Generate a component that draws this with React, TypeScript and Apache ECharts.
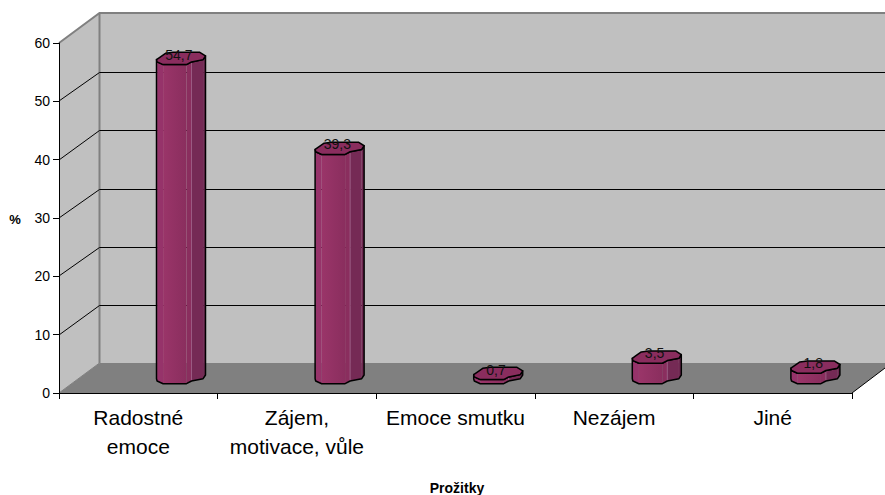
import React, { useEffect, useRef } from "react";
import * as echarts from "echarts";

const categories = ["Radostné\nemoce", "Zájem,\nmotivace, vůle", "Emoce smutku", "Nezájem", "Jiné"];
const values = [54.7, 39.3, 0.7, 3.5, 1.8];
const valueLabels = ["54,7", "39,3", "0,7", "3,5", "1,8"];
const yTicks = [10, 20, 30, 40, 50];

const FONT = "Arial, 'Liberation Sans', sans-serif";
const DX = 40.5;
const DY = -30;
const GRID_DY = -28.7;

const capOutline: number[][] = [
  [-24.3, -5], [-21, -7.3], [-15.3, -11.3], [-7.7, -12.3], [19, -12.3], [24.7, -8.7],
  [22.3, -5], [10.7, -2.7], [5.7, 0], [-17.7, 0], [-23.7, -2.7],
];
const frontEdge: number[][] = [
  [-24.3, -5], [-23.7, -2.7], [-17.7, 0], [5.7, 0], [10.7, -2.7], [22.3, -5], [24.7, -8.7],
];
const faceColors: any[] = [
  "#8d2f60",
  "#96336a",
  {
    type: "linear", x: 0, y: 0, x2: 1, y2: 0,
    colorStops: [{ offset: 0, color: "#9a3569" }, { offset: 1, color: "#8a2e5e" }],
  },
  "#8a2e5e",
  "#752a55",
  "#6e2750",
];

const wallsItem = (params: any) => {
  const c = params.coordSys;
  const left = c.x;
  const top = c.y;
  const right = c.x + c.width;
  const bottom = c.y + c.height;
  const pageRight = right + 33;
  const wallTop = top + DY;
  const wallBottom = bottom + DY;
  const edge = { stroke: "#808080", lineWidth: 2 };
  return {
    type: "group",
    children: [
      { type: "rect", shape: { x: left + DX, y: wallTop, width: pageRight - left - DX, height: wallBottom - wallTop }, style: { fill: "#c0c0c0" } },
      { type: "polygon", shape: { points: [[left, top], [left + DX, wallTop], [left + DX, wallBottom], [left, bottom]] }, style: { fill: "#c0c0c0" } },
      { type: "polygon", shape: { points: [[left, bottom], [right, bottom], [pageRight, bottom - 25], [pageRight, wallBottom], [left + DX, wallBottom]] }, style: { fill: "#808080" } },
      { type: "polyline", shape: { points: [[left, top], [left + DX, wallTop], [pageRight, wallTop]] }, style: { ...edge, fill: "none" } },
      { type: "line", shape: { x1: left + DX, y1: wallTop, x2: left + DX, y2: wallBottom }, style: edge },
      { type: "line", shape: { x1: left, y1: bottom, x2: left + DX, y2: wallBottom }, style: { stroke: "#808080", lineWidth: 1 } },
      { type: "line", shape: { x1: right, y1: bottom, x2: pageRight, y2: bottom - 25 }, style: { stroke: "#000", lineWidth: 1 } },
    ],
  };
};

const gridItem = (params: any, api: any) => {
  const c = params.coordSys;
  const y = Math.round(api.coord([0, api.value(0)])[1]);
  const backY = Math.floor(api.coord([0, api.value(0)])[1] + GRID_DY) + 0.5;
  return {
    type: "group",
    children: [
      { type: "line", shape: { x1: c.x, y1: y, x2: c.x + DX, y2: backY }, style: { stroke: "#000", lineWidth: 1 } },
      { type: "line", shape: { x1: c.x + DX, y1: backY, x2: c.x + c.width + 33, y2: backY }, style: { stroke: "#000", lineWidth: 1 } },
    ],
  };
};

const barItem = (params: any, api: any) => {
  const i = params.dataIndex;
  const [catX, zeroY] = api.coord([i, 0]);
  const [, valueY] = api.coord([i, api.value(1)]);
  const cx = catX + 42.5;
  const base = zeroY - 9.3;
  const h = zeroY - valueY;
  const lift = (pts: number[][], d: number) => pts.map(([x, y]) => [cx + x, base + y - d]);
  const children: any[] = [];
  for (let f = 0; f < frontEdge.length - 1; f++) {
    const a = frontEdge[f];
    const b = frontEdge[f + 1];
    children.push({
      type: "polygon",
      shape: { points: [[cx + a[0], base + a[1]], [cx + b[0], base + b[1]], [cx + b[0], base + b[1] - h], [cx + a[0], base + a[1] - h]] },
      style: { fill: faceColors[f] },
    });
  }
  children.push({
    type: "line",
    shape: { x1: cx + 10.7, y1: base - 2.7, x2: cx + 10.7, y2: base - 2.7 - h },
    style: { stroke: "#9a5a82", lineWidth: 1 },
  });
  children.push({
    type: "polygon",
    shape: { points: [...lift(frontEdge, h), ...lift(frontEdge, 0).reverse()] },
    style: { fill: "none", stroke: "#000", lineWidth: 1.5, lineJoin: "round" },
  });
  children.push({
    type: "polygon",
    shape: { points: lift(capOutline, h) },
    style: { fill: "#8a2d5e", stroke: "#000", lineWidth: 1.5, lineJoin: "round" },
  });
  children.push({
    type: "text",
    style: {
      text: valueLabels[i],
      x: cx - 2,
      y: base - h - 10,
      align: "center",
      verticalAlign: "middle",
      fill: "#111",
      font: `14px ${FONT}`,
    },
  });
  return { type: "group", children };
};

export default function App() {
  const ref = useRef<HTMLDivElement>(null);
  useEffect(() => {
    const chart = echarts.init(ref.current!, undefined, { renderer: "svg" });
    chart.setOption({
      animation: false,
      backgroundColor: "#ffffff",
      textStyle: { fontFamily: FONT },
      grid: { left: 59, right: 33, top: 43, bottom: 102, containLabel: false },
      xAxis: {
        type: "category",
        data: categories,
        z: 5,
        boundaryGap: true,
        axisLine: { lineStyle: { color: "#000", width: 1 } },
        axisTick: { show: true, length: 6, alignWithLabel: false, lineStyle: { color: "#000" } },
        axisLabel: { interval: 0, color: "#000", fontSize: 21, lineHeight: 29.5, margin: 9.5, fontFamily: FONT },
        splitLine: { show: false },
      },
      yAxis: {
        type: "value",
        min: 0,
        max: 60,
        interval: 10,
        z: 5,
        axisLine: { show: true, lineStyle: { color: "#000", width: 1 } },
        axisTick: { show: true, length: 6, lineStyle: { color: "#000" } },
        axisLabel: { color: "#000", fontSize: 14, margin: 9, padding: [8, 0, 0, 0], fontFamily: FONT },
        splitLine: { show: false },
      },
      graphic: [
        { type: "text", x: 15, y: 219, style: { text: "%", fill: "#000", align: "center", verticalAlign: "middle", font: `bold 13px ${FONT}` } },
        { type: "text", x: 457, y: 488, style: { text: "Prožitky", fill: "#000", align: "center", verticalAlign: "middle", font: `bold 14px ${FONT}` } },
      ],
      series: [
        { type: "custom", z: 1, silent: true, clip: false, data: [0], renderItem: wallsItem },
        { type: "custom", z: 2, silent: true, clip: false, data: yTicks, encode: { y: 0 }, renderItem: gridItem },
        {
          type: "custom", z: 3, silent: true, clip: false,
          data: values.map((v, i) => [i, v]),
          encode: { x: 0, y: 1 },
          renderItem: barItem,
        },
      ],
    });
    return () => chart.dispose();
  }, []);
  return <div ref={ref} style={{ position: "fixed", left: 0, top: 0, width: 885, height: 495 }} />;
}
